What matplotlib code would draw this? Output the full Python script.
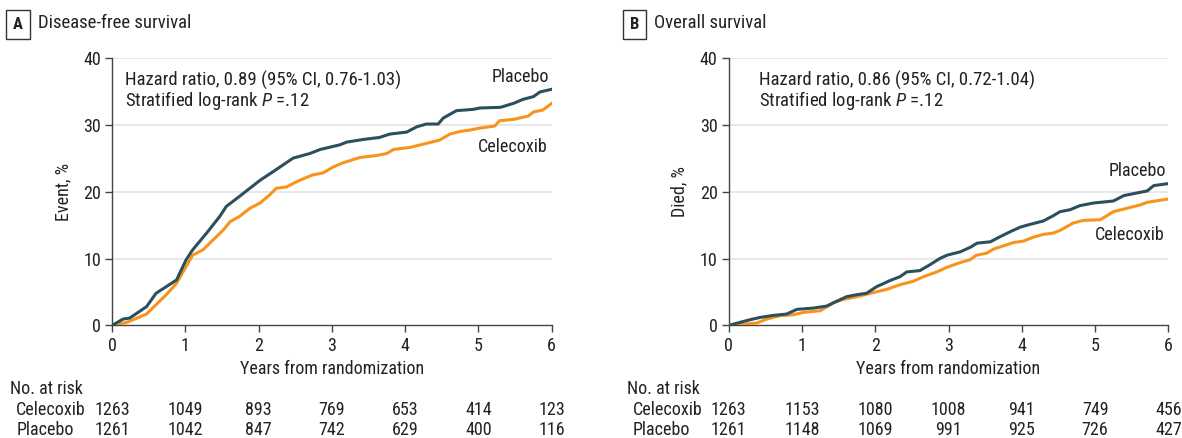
import numpy as np
import matplotlib
matplotlib.use("Agg")
from matplotlib import pyplot as plt
from matplotlib import transforms

plt.rcParams['font.family'] = ['Roboto Condensed', 'Lato', 'DejaVu Sans']
plt.rcParams['mathtext.fontset'] = 'custom'
plt.rcParams['mathtext.it'] = 'Roboto Condensed:italic'

PLACEBO_COLOR = '#2c4f5e'
CELECOXIB_COLOR = '#f7941d'
TEXT_COLOR = '#222222'
FS = 13

# Panel A - disease-free survival (event, %)
dfs_placebo_t = [0, 0.15, 0.24, 0.47, 0.6, 0.74, 0.88, 1.01, 1.1, 1.29, 1.47, 1.56,
                 1.74, 1.88, 2.02, 2.2, 2.47, 2.7, 2.84, 3.11, 3.2, 3.43, 3.65, 3.79,
                 4.02, 4.16, 4.29, 4.45, 4.52, 4.7, 4.93, 5.02, 5.3, 5.48, 5.61, 5.75,
                 5.84, 6.0]
dfs_placebo_y = [0, 0.95, 1.1, 2.8, 4.8, 5.8, 6.8, 9.8, 11.3, 13.8, 16.3, 17.8,
                 19.3, 20.5, 21.7, 23.0, 25.0, 25.7, 26.3, 27.0, 27.4, 27.8, 28.1, 28.6,
                 28.9, 29.7, 30.1, 30.1, 31.0, 32.1, 32.3, 32.5, 32.6, 33.2, 33.8, 34.2,
                 34.9, 35.3]
dfs_celecoxib_t = [0, 0.2, 0.47, 0.6, 0.74, 0.88, 1.01, 1.1, 1.24, 1.38, 1.52, 1.61,
                   1.74, 1.88, 2.02, 2.15, 2.24, 2.38, 2.56, 2.74, 2.88, 3.02, 3.15, 3.38,
                   3.61, 3.75, 3.84, 4.06, 4.25, 4.47, 4.61, 4.75, 4.88, 5.02, 5.22, 5.29,
                   5.48, 5.68, 5.75, 5.88, 6.0]
dfs_celecoxib_y = [0, 0.45, 1.7, 3.1, 4.6, 6.3, 8.8, 10.5, 11.3, 12.8, 14.3, 15.5,
                   16.3, 17.5, 18.3, 19.5, 20.5, 20.7, 21.7, 22.5, 22.8, 23.7, 24.3, 25.1,
                   25.4, 25.7, 26.3, 26.6, 27.1, 27.7, 28.6, 29.0, 29.2, 29.5, 29.8, 30.6,
                   30.8, 31.3, 31.9, 32.2, 33.2]

# Panel B - overall survival (died, %)
os_placebo_t = [0, 0.15, 0.29, 0.43, 0.61, 0.79, 0.93, 1.16, 1.34, 1.47, 1.61, 1.75,
                1.88, 2.02, 2.2, 2.34, 2.43, 2.61, 2.75, 2.88, 2.98, 3.16, 3.3, 3.39,
                3.57, 3.71, 3.84, 3.98, 4.11, 4.29, 4.43, 4.52, 4.66, 4.79, 4.98, 5.25,
                5.39, 5.57, 5.71, 5.8, 6.0]
os_placebo_y = [0, 0.45, 0.85, 1.2, 1.5, 1.7, 2.4, 2.6, 2.9, 3.6, 4.3, 4.6,
                4.8, 5.8, 6.7, 7.3, 8.0, 8.2, 9.1, 10.0, 10.5, 11.0, 11.7, 12.3,
                12.5, 13.3, 14.0, 14.7, 15.1, 15.6, 16.4, 17.0, 17.3, 17.9, 18.3, 18.6,
                19.4, 19.8, 20.1, 20.9, 21.2]
os_celecoxib_t = [0, 0.2, 0.38, 0.52, 0.7, 0.88, 1.02, 1.25, 1.43, 1.57, 1.75, 1.97,
                  2.16, 2.34, 2.52, 2.66, 2.84, 2.98, 3.16, 3.29, 3.38, 3.52, 3.61, 3.75,
                  3.89, 4.02, 4.16, 4.29, 4.43, 4.52, 4.7, 4.84, 5.07, 5.16, 5.25, 5.43,
                  5.61, 5.71, 6.0]
os_celecoxib_y = [0, 0.2, 0.35, 0.95, 1.45, 1.6, 1.95, 2.2, 3.4, 3.9, 4.3, 4.9,
                  5.4, 6.1, 6.6, 7.3, 8.0, 8.7, 9.4, 9.8, 10.5, 10.8, 11.4, 11.9,
                  12.4, 12.6, 13.2, 13.6, 13.8, 14.2, 15.3, 15.7, 15.8, 16.4, 17.0, 17.5,
                  18.0, 18.4, 18.9]

risk_years = [0, 1, 2, 3, 4, 5, 6]
dfs_risk_celecoxib = [1263, 1049, 893, 769, 653, 414, 123]
dfs_risk_placebo = [1261, 1042, 847, 742, 629, 400, 116]
os_risk_celecoxib = [1263, 1153, 1080, 1008, 941, 749, 456]
os_risk_placebo = [1261, 1148, 1069, 991, 925, 726, 427]


def draw_panel(fig, left, letter, title, ylabel, hr_text, pl, ce, risk_ce, risk_pl,
               pl_label_y, ce_label_y, hr_x):
    ax = fig.add_axes([left, 0.257, 0.372, 0.611])
    ax.set_xlim(0, 6)
    ax.set_ylim(0, 40)
    for yv in [10, 20, 30, 40]:
        ax.axhline(yv, color='#e4e4e4', lw=1.2, zorder=0)
    ax.plot(ce[0], ce[1], color=CELECOXIB_COLOR, lw=2.2, zorder=3)
    ax.plot(pl[0], pl[1], color=PLACEBO_COLOR, lw=2.2, zorder=4)
    for s in ['top', 'right']:
        ax.spines[s].set_visible(False)
    for s in ['left', 'bottom']:
        ax.spines[s].set_color('#444444')
        ax.spines[s].set_linewidth(1.0)
    ax.set_xticks(risk_years)
    ax.set_yticks([0, 10, 20, 30, 40])
    ax.tick_params(direction='out', length=5, width=1, colors='#444444',
                   labelcolor=TEXT_COLOR, labelsize=FS, pad=3)
    ax.set_xlabel('Years from randomization', color=TEXT_COLOR, fontsize=FS, labelpad=4)
    ax.set_ylabel(ylabel, color=TEXT_COLOR, fontsize=FS, labelpad=8)

    ax.text(hr_x, 36.6, hr_text, fontsize=13.5, color=TEXT_COLOR, va='center')
    ax.text(hr_x, 33.6, 'Stratified log-rank $\\mathit{P}$ =.12', fontsize=13.5,
            color=TEXT_COLOR, va='center')
    ax.text(5.97, pl_label_y, 'Placebo', ha='right', va='center', fontsize=FS, color=TEXT_COLOR)
    ax.text(5.95, ce_label_y, 'Celecoxib', ha='right', va='center', fontsize=FS, color=TEXT_COLOR)

    # panel letter and title
    fig.text(left - 0.0795, 0.945, letter, fontsize=12, fontweight='bold', color=TEXT_COLOR,
             va='center', ha='center',
             bbox=dict(boxstyle='square,pad=0.42', fc='white', ec='#333333', lw=1))
    fig.text(left - 0.063, 0.947, title, fontsize=FS + 0.5, color=TEXT_COLOR, va='center')

    # number at risk table
    fig.text(left - 0.086, 0.112, 'No. at risk', fontsize=FS, color=TEXT_COLOR, va='center')
    fig.text(left - 0.081, 0.064, 'Celecoxib', fontsize=FS, color=TEXT_COLOR, va='center')
    fig.text(left - 0.081, 0.018, 'Placebo', fontsize=FS, color=TEXT_COLOR, va='center')
    trans = transforms.blended_transform_factory(ax.transData, fig.transFigure)
    for yr, c, p in zip(risk_years, risk_ce, risk_pl):
        ax.text(yr, 0.064, str(c), transform=trans, ha='center', va='center',
                fontsize=FS, color=TEXT_COLOR, clip_on=False)
        ax.text(yr, 0.018, str(p), transform=trans, ha='center', va='center',
                fontsize=FS, color=TEXT_COLOR, clip_on=False)
    return ax


fig = plt.figure(figsize=(11.82, 4.38), dpi=100)
draw_panel(fig, 0.0948, 'A', 'Disease-free survival', 'Event, %',
           'Hazard ratio, 0.89 (95% CI, 0.76-1.03)',
           (dfs_placebo_t, dfs_placebo_y), (dfs_celecoxib_t, dfs_celecoxib_y),
           dfs_risk_celecoxib, dfs_risk_placebo, 37.2, 26.6, 0.17)
draw_panel(fig, 0.6165, 'B', 'Overall survival', 'Died, %',
           'Hazard ratio, 0.86 (95% CI, 0.72-1.04)',
           (os_placebo_t, os_placebo_y), (os_celecoxib_t, os_celecoxib_y),
           os_risk_celecoxib, os_risk_placebo, 23.1, 13.5, 0.41)

fig.savefig('out.png', dpi=100)
